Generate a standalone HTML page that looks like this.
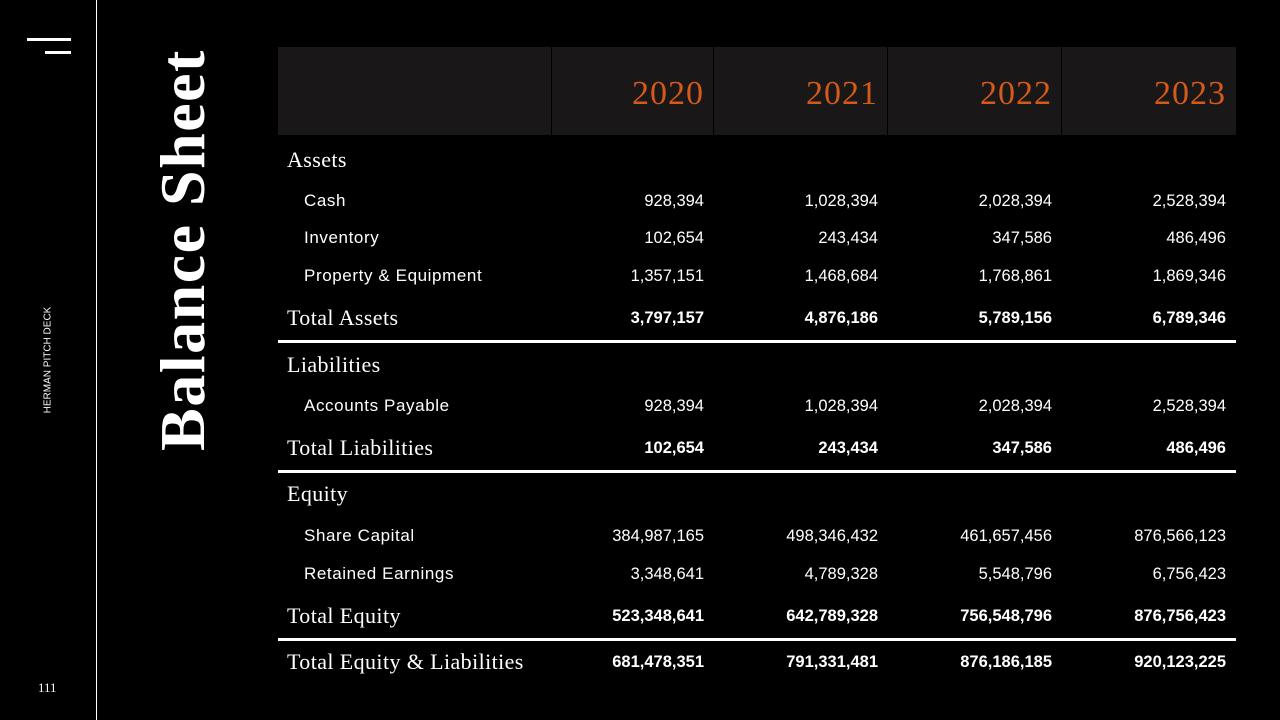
<!DOCTYPE html>
<html><head><meta charset="utf-8"><style>
*{margin:0;padding:0;box-sizing:border-box}
body{width:1280px;height:720px;background:#000;position:relative;overflow:hidden;font-family:"Liberation Sans",sans-serif;color:#fff}
.a{position:absolute}
.t{position:absolute;height:30px;line-height:30px;white-space:nowrap}
.serif{font-family:"Liberation Serif",serif;font-size:22px;letter-spacing:0.4px}
.r{text-align:right;width:180px}
.yr{font-family:"Liberation Serif",serif;color:#d45a1a;font-size:34px;position:absolute;top:74px;height:40px;line-height:40px;text-align:right;width:160px;letter-spacing:1px}
.line{position:absolute;left:278px;width:958px;height:3px;background:#fff}
</style></head><body>
<div class="a" style="left:27px;top:38px;width:44px;height:3px;background:#fff"></div>
<div class="a" style="left:45px;top:51px;width:26px;height:3px;background:#fff"></div>
<div class="a" style="left:96px;top:0;width:1px;height:720px;background:#fff"></div>
<div class="a" style="left:48px;top:360px;transform:translate(-50%,-50%) rotate(-90deg);font-size:10px;white-space:nowrap">HERMAN PITCH DECK</div>
<div class="a" style="left:38px;top:680px;font-size:13px;font-family:'Liberation Serif',serif">111</div>
<div class="a" style="left:183px;top:250px;transform:translate(-50%,-50%) rotate(-90deg);font-size:64px;font-weight:bold;letter-spacing:1.5px;white-space:nowrap;line-height:70px;font-family:'Liberation Serif',serif">Balance Sheet</div>

<div class="a" style="left:278px;top:47px;width:958px;height:88px;background:#191718"></div>
<div class="a" style="left:551px;top:47px;width:1px;height:88px;background:#000"></div>
<div class="a" style="left:713px;top:47px;width:1px;height:88px;background:#000"></div>
<div class="a" style="left:887px;top:47px;width:1px;height:88px;background:#000"></div>
<div class="a" style="left:1061px;top:47px;width:1px;height:88px;background:#000"></div>
<div class="yr" style="left:544px">2020</div>
<div class="yr" style="left:718px">2021</div>
<div class="yr" style="left:892px">2022</div>
<div class="yr" style="left:1066px">2023</div>

<div class="t serif" style="left:287px;top:145px">Assets</div>
<div class="t serif" style="left:287px;top:350px">Liabilities</div>
<div class="t serif" style="left:287px;top:479px">Equity</div>

<div class="t serif" style="left:287px;top:303px">Total Assets</div>
<div class="t serif" style="left:287px;top:433px">Total Liabilities</div>
<div class="t serif" style="left:287px;top:601px">Total Equity</div>
<div class="t serif" style="left:287px;top:647px">Total Equity &amp; Liabilities</div>

<div class="line" style="top:340px"></div>
<div class="line" style="top:470px"></div>
<div class="line" style="top:638px"></div>

<div id="rows"></div>
<script>
var rows=[
[201,"Cash",["928,394","1,028,394","2,028,394","2,528,394"],0],
[238,"Inventory",["102,654","243,434","347,586","486,496"],0],
[276,"Property &amp; Equipment",["1,357,151","1,468,684","1,768,861","1,869,346"],0],
[318,"",["3,797,157","4,876,186","5,789,156","6,789,346"],1],
[406,"Accounts Payable",["928,394","1,028,394","2,028,394","2,528,394"],0],
[448,"",["102,654","243,434","347,586","486,496"],1],
[536,"Share Capital",["384,987,165","498,346,432","461,657,456","876,566,123"],0],
[574,"Retained Earnings",["3,348,641","4,789,328","5,548,796","6,756,423"],0],
[616,"",["523,348,641","642,789,328","756,548,796","876,756,423"],1],
[662,"",["681,478,351","791,331,481","876,186,185","920,123,225"],1]];
var ends=[704,878,1052,1226],h="";
rows.forEach(function(r){var top=r[0]-15;
if(r[1])h+='<div class="t" style="left:304px;top:'+top+'px;font-size:17px;letter-spacing:0.6px">'+r[1]+'</div>';
r[2].forEach(function(v,i){h+='<div class="t r" style="left:'+(ends[i]-180)+'px;top:'+top+'px;font-size:16.5px;'+(r[3]?'font-weight:bold':'')+'">'+v+'</div>';});});
document.getElementById("rows").innerHTML=h;
</script>
</body></html>
